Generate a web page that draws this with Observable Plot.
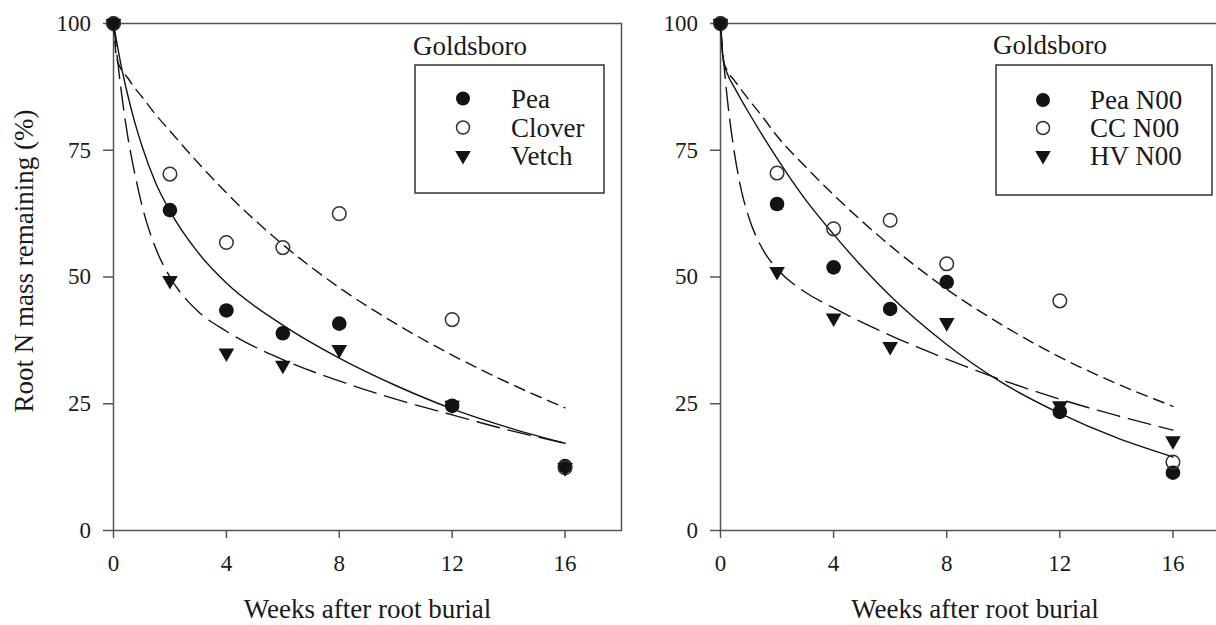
<!DOCTYPE html>
<html>
<head>
<meta charset="utf-8">
<script src="https://cdn.jsdelivr.net/npm/d3@7"></script>
<script src="https://cdn.jsdelivr.net/npm/@observablehq/plot@0.6"></script>
<style>
  html, body { margin: 0; padding: 0; background: #fff; overflow: hidden; }
  #fig { position: relative; width: 1216px; height: 625px; overflow: hidden; background: #fff;
         font-family: "Liberation Serif", "Times New Roman", serif; }
  .panel { position: absolute; top: 0; }
  .panel [aria-label$="tick label"] { font-size: 23px; font-family: "Liberation Serif", "Times New Roman", serif; }
  .overlay { position: absolute; left: 0; top: 0; pointer-events: none; }
  .overlay text { font-family: "Liberation Serif", "Times New Roman", serif; font-size: 27px; fill: #1a1a1a; }
</style>
</head>
<body>
<div id="fig"></div>
<script>
// Sampling weeks (root litterbags retrieved)
const weeks = [0, 2, 4, 6, 8, 12, 16];

// Goldsboro, root N mass remaining (%) by cover crop
const peaRoot    = [100, 63.2, 43.4, 38.9, 40.8, 24.6, 12.7];
const cloverRoot = [100, 70.3, 56.8, 55.8, 62.5, 41.6, 12.4];
const vetchRoot  = [100, 49.3, 35.0, 32.6, 35.7, 24.7, 12.4];

// Goldsboro, N00 treatment
const peaN00 = [100, 64.4, 51.9, 43.7, 49.0, 23.4, 11.4];
const ccN00  = [100, 70.5, 59.5, 61.2, 52.6, 45.3, 13.5];
const hvN00  = [100, 51.1, 41.9, 36.3, 41.0, 24.6, 17.7];

// Fitted decay curves, sampled along the week axis
const fitWeeks = [0, 0.1, 0.25, 0.5, 0.75, 1, 1.5, 2, 3, 4, 6, 8, 10, 12, 14, 16];
const peaRootFit    = [100, 96.8, 92.3, 86.0, 80.6, 76.0, 68.5, 63.0, 54.8, 48.8, 40.5, 34.0, 28.6, 24.0, 20.3, 17.2];
const cloverRootFit = [100, 93.6, 91.2, 89.3, 87.3, 85.6, 82.0, 78.8, 72.5, 66.6, 56.4, 47.9, 40.8, 34.6, 29.1, 24.2];
const vetchRootFit  = [100, 95.0, 87.7, 77.9, 70.5, 64.3, 55.6, 50.0, 43.2, 39.3, 33.7, 29.5, 25.9, 22.8, 19.8, 17.2];
const peaN00Fit = [100, 92.8, 90.0, 87.3, 84.8, 82.4, 77.8, 73.4, 65.3, 58.4, 46.3, 36.7, 29.0, 23.1, 18.3, 14.5];
const ccN00Fit  = [100, 92.7, 90.6, 88.7, 86.8, 85.0, 81.5, 77.8, 71.8, 66.2, 56.2, 47.6, 40.4, 34.2, 29.0, 24.5];
const hvN00Fit  = [100, 93.2, 84.7, 74.2, 66.8, 61.8, 55.4, 51.6, 47.0, 43.9, 38.5, 33.8, 29.6, 25.9, 22.7, 19.8];

const xTicks = [0, 4, 8, 12, 16];
const yTicks = [0, 25, 50, 75, 100];
const siteName = "Goldsboro";
const xTitle = "Weeks after root burial";
const yTitle = "Root N mass remaining (%)";

const INK = "#131313";
const AXIS = "#555";
const TEXT = "#1a1a1a";
const FONT = "'Liberation Serif', 'Times New Roman', serif";

const toRows = (xs, ys) => xs.map((x, i) => ({x, y: ys[i]}));

function panel({series, fits, marginLeft, width, showYTitle}) {
  const marks = [
    Plot.frame({stroke: AXIS, strokeWidth: 1.5}),
    Plot.axisY({ticks: yTicks, tickSize: 10, tickPadding: 12.5, label: null, stroke: AXIS, strokeWidth: 1.5, fontSize: 23, fill: TEXT}),
    Plot.axisX({ticks: xTicks, tickSize: 8, tickPadding: 16, label: null, stroke: AXIS, strokeWidth: 1.5, fontSize: 23, fill: TEXT}),
    Plot.text([xTitle], {frameAnchor: "bottom", dy: 79, lineAnchor: "middle", fontSize: 27, fill: TEXT})
  ];
  if (showYTitle) {
    marks.push(Plot.text([yTitle], {frameAnchor: "left", rotate: -90, dx: -100, dy: -16, lineAnchor: "top", textAnchor: "middle", fontSize: 27, fill: TEXT}));
  }
  // fitted curves: solid, short dash, long dash
  marks.push(Plot.line(toRows(fitWeeks, fits[0]), {x: "x", y: "y", curve: "monotone-x", stroke: INK, strokeWidth: 1.4}));
  marks.push(Plot.line(toRows(fitWeeks, fits[1]), {x: "x", y: "y", curve: "monotone-x", stroke: INK, strokeWidth: 1.4, strokeDasharray: "11,7"}));
  marks.push(Plot.line(toRows(fitWeeks, fits[2]), {x: "x", y: "y", curve: "monotone-x", stroke: INK, strokeWidth: 1.4, strokeDasharray: "23,9"}));
  // observations
  marks.push(Plot.dot(toRows(weeks, series[0]), {x: "x", y: "y", r: 7.3, fill: INK, stroke: "none"}));
  marks.push(Plot.dot(toRows(weeks, series[1]), {x: "x", y: "y", r: 6.8, fill: "none", stroke: "#333", strokeWidth: 1.5}));
  marks.push(Plot.dot(toRows(weeks, series[2]), {x: "x", y: "y", r: 5.8, symbol: "triangle", rotate: 180, fill: INK, stroke: "none"}));

  return Plot.plot({
    width, height: 625,
    marginLeft, marginRight: 19, marginTop: 23, marginBottom: 95,
    x: {domain: [0, 18]},
    y: {domain: [0, 100]},
    style: {fontFamily: FONT, fontSize: "23px", color: TEXT, background: "transparent", overflow: "visible"},
    marks
  });
}

const fig = document.getElementById("fig");

const left = panel({
  series: [peaRoot, cloverRoot, vetchRoot],
  fits: [peaRootFit, cloverRootFit, vetchRootFit],
  marginLeft: 113, width: 640, showYTitle: true
});
left.classList.add("panel");
left.style.left = "0px";
fig.appendChild(left);

const right = panel({
  series: [peaN00, ccN00, hvN00],
  fits: [peaN00Fit, ccN00Fit, hvN00Fit],
  marginLeft: 80, width: 608, showYTitle: false
});
right.classList.add("panel");
right.style.left = "640px";
fig.appendChild(right);

// Boxed legends with the site name above each box
const legendLeftNames = ["Pea", "Clover", "Vetch"];
const legendRightNames = ["Pea N00", "CC N00", "HV N00"];

const overlay = d3.select(fig).append("svg")
  .attr("class", "overlay")
  .attr("width", 1216).attr("height", 625);

function legend(g, {titleX, titleY, box, markX, textX, rowsY, names}) {
  g.append("text").attr("x", titleX).attr("y", titleY)
    .attr("font-family", FONT).attr("font-size", 27).text(siteName);
  g.append("rect").attr("x", box[0]).attr("y", box[1])
    .attr("width", box[2] - box[0]).attr("height", box[3] - box[1])
    .attr("fill", "#fff").attr("stroke", "#333").attr("stroke-width", 1.5);
  const symbols = [
    s => s.append("circle").attr("r", 7).attr("fill", INK),
    s => s.append("circle").attr("r", 6.5).attr("fill", "none").attr("stroke", "#333").attr("stroke-width", 1.5),
    s => s.append("path").attr("d", d3.symbol(d3.symbolTriangle, Math.PI * 5.8 * 5.8)()).attr("transform", "rotate(180)").attr("fill", INK)
  ];
  names.forEach((name, i) => {
    const row = g.append("g").attr("transform", `translate(${markX},${rowsY[i]})`);
    symbols[i](row);
    g.append("text").attr("x", textX).attr("y", rowsY[i] + 9)
      .attr("font-family", FONT).attr("font-size", 27).text(name);
  });
}

legend(overlay.append("g"), {
  titleX: 413, titleY: 55, box: [415, 65, 604, 193],
  markX: 463, textX: 511, rowsY: [98.5, 127.5, 155.5], names: legendLeftNames
});
legend(overlay.append("g"), {
  titleX: 993, titleY: 54, box: [996, 65, 1212, 195],
  markX: 1043, textX: 1090, rowsY: [100, 128, 155.5], names: legendRightNames
});
</script>
</body>
</html>
